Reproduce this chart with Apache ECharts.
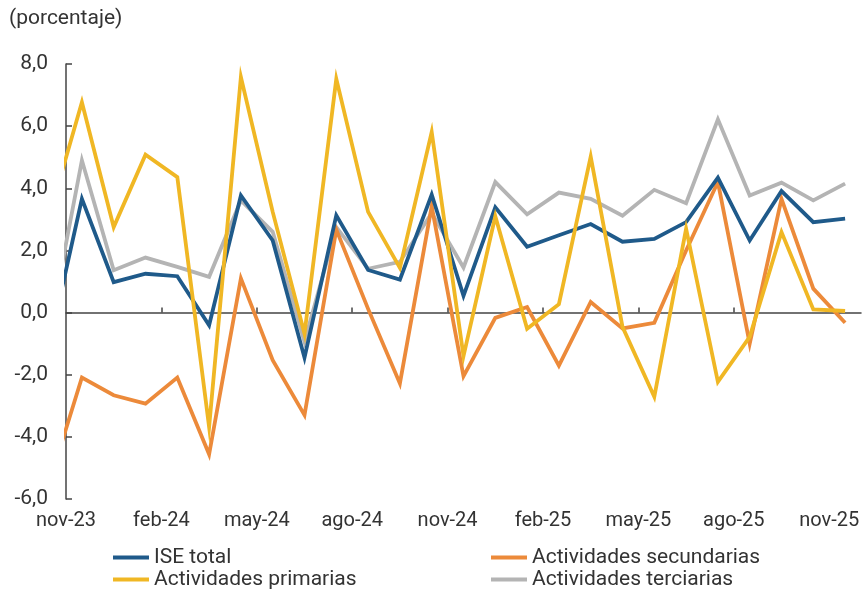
<!DOCTYPE html>
<html><head><meta charset="utf-8">
<script src="https://cdn.jsdelivr.net/npm/echarts@6/dist/echarts.min.js"></script>
<style>html,body{margin:0;padding:0;background:#fff}#c{width:863px;height:592px}</style>
</head><body><div id="c"></div>
<script>
// Months (first one is partly hidden behind the y axis in the reference)
const months = ['oct-23','nov-23','dic-23','ene-24','feb-24','mar-24','abr-24','may-24','jun-24','jul-24','ago-24','sep-24','oct-24','nov-24','dic-24','ene-25','feb-25','mar-25','abr-25','may-25','jun-25','jul-25','ago-25','sep-25','oct-25','nov-25'];
const tickLabels = ['nov-23','feb-24','may-24','ago-24','nov-24','feb-25','may-25','ago-25','nov-25'];
const yTicks = [-6, -4, -2, 0, 2, 4, 6, 8];
const seriesNames = ['ISE total', 'Actividades secundarias', 'Actividades primarias', 'Actividades terciarias'];

const iseTotal     = [-0.94, 3.66, 0.98, 1.25, 1.17, -0.41, 3.77, 2.32, -1.45, 3.13, 1.37, 1.06, 3.80, 0.54, 3.39, 2.12, 2.49, 2.85, 2.28, 2.37, 2.91, 4.34, 2.32, 3.91, 2.91, 3.02];
const secundarias  = [-5.40, -2.09, -2.66, -2.93, -2.09, -4.56, 1.10, -1.53, -3.30, 2.67, 0.12, -2.28, 3.42, -2.05, -0.17, 0.18, -1.71, 0.34, -0.51, -0.33, 2.00, 4.20, -1.00, 3.66, 0.77, -0.33];
const primarias    = [3.20, 6.77, 2.75, 5.08, 4.36, -3.68, 7.58, 3.24, -0.68, 7.52, 3.24, 1.44, 5.81, -1.40, 3.10, -0.52, 0.27, 5.02, -0.46, -2.71, 2.70, -2.23, -0.78, 2.59, 0.10, 0.05];
const terciarias   = [-0.46, 4.90, 1.36, 1.77, 1.47, 1.15, 3.61, 2.60, -0.94, 2.75, 1.41, 1.63, 3.20, 1.45, 4.20, 3.16, 3.86, 3.66, 3.12, 3.95, 3.52, 6.22, 3.77, 4.18, 3.61, 4.15];

const FONT = 'Roboto';
const C_BLUE = '#1f5a8a', C_ORANGE = '#ec8a3a', C_YELLOW = '#f0b724', C_GREY = '#b4b4b4';

// points sit mid-month; labels sit at the start of their month
const pos = i => i - 0.5;
const labelPos = tickLabels.map(l => months.indexOf(l) - 1);
const toPairs = arr => arr.map((v, i) => [pos(i), v]);
const xMax = months.length - 1;

const chart = echarts.init(document.getElementById('c'), null, {renderer: 'canvas'});
const mk = (name, data, color) => ({
  name, type: 'line', xAxisIndex: 0, data: toPairs(data), showSymbol: false, symbol: 'none',
  lineStyle: {color, width: 3.8, join: 'miter'}, itemStyle: {color}, clip: true, animation: false
});
const legendAt = (name, left, top) => ({
  left, top, data: [name], icon: 'rect', itemWidth: 36, itemHeight: 4, selectedMode: false,
  textStyle: {fontFamily: FONT, fontSize: 21, color: '#333'}, padding: 0
});
chart.setOption({
  animation: false,
  title: {text: '(porcentaje)', left: 9, top: 8, padding: 0, textStyle: {fontFamily: FONT, fontSize: 21, fontWeight: 'normal', color: '#333'}},
  legend: [
    legendAt(seriesNames[0], 113, 547),
    legendAt(seriesNames[2], 113, 569),
    legendAt(seriesNames[1], 491, 547),
    legendAt(seriesNames[3], 491, 569)
  ],
  grid: {left: 66, right: 2, top: 64, bottom: 93, containLabel: false},
  xAxis: [
    {type: 'value', min: 0, max: xMax, position: 'bottom',
     axisLine: {show: false, onZero: false}, axisTick: {show: false}, splitLine: {show: false},
     axisLabel: {customValues: labelPos, margin: 12, fontFamily: FONT, fontSize: 20, color: '#333',
       formatter: v => { const j = labelPos.indexOf(Math.round(v)); return j >= 0 ? tickLabels[j] : ''; }}},
    {type: 'value', min: 0, max: xMax, position: 'bottom',
     axisLine: {show: true, onZero: true, lineStyle: {color: '#444', width: 1.5}},
     axisTick: {show: true, inside: true, length: 5, customValues: labelPos.slice(1, -1), lineStyle: {color: '#444', width: 1.5}},
     axisLabel: {show: false}, splitLine: {show: false}}
  ],
  yAxis: {type: 'value', min: yTicks[0], max: yTicks[yTicks.length - 1], interval: 2,
    axisLine: {show: true, onZero: false, lineStyle: {color: '#444', width: 1.5}},
    axisTick: {show: true, inside: true, length: 6, lineStyle: {color: '#444', width: 1.5}},
    splitLine: {show: false},
    axisLabel: {margin: 18, fontFamily: FONT, fontSize: 21, color: '#333', formatter: v => v.toFixed(1).replace('.', ',')}},
  series: [
    mk(seriesNames[3], terciarias, C_GREY),
    mk(seriesNames[1], secundarias, C_ORANGE),
    mk(seriesNames[0], iseTotal, C_BLUE),
    mk(seriesNames[2], primarias, C_YELLOW)
  ]
});
</script></body></html>
